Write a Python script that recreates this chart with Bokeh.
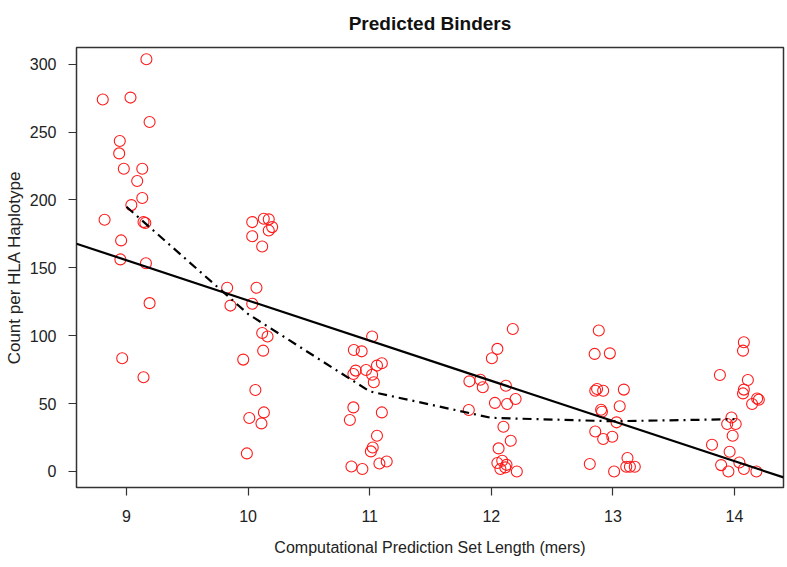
import numpy as np
from bokeh.plotting import figure
from bokeh.models import Range1d, FixedTicker
from bokeh.embed import file_html
from bokeh.resources import INLINE

# ---- data ----
set_lengths = [9, 10, 11, 12, 13, 14]
x_ticks = [9, 10, 11, 12, 13, 14]
y_ticks = [0, 50, 100, 150, 200, 250, 300]

# jittered x positions and counts per HLA haplotype, one pair of lists per length
x_9mer = [9.164, 8.805, 9.033, 9.19, 8.945, 8.94, 8.978, 9.13, 9.088, 9.13,
          9.04, 8.82, 9.14, 9.155, 8.956, 8.95, 9.16, 9.19, 8.965, 9.14]
y_9mer = [303.7, 274, 275.4, 257.4, 243.4, 234.3, 223, 223, 214, 201.4,
          196.2, 185.4, 183.7, 183, 170.2, 156.2, 153.4, 124, 83.4, 69.4]

x_10mer = [10.034, 10.129, 10.17, 10.198, 10.17, 10.034, 10.116, 9.828, 10.069, 9.855,
           10.034, 10.116, 10.16, 10.124, 9.96, 10.06, 10.13, 10.01, 10.11, 9.99]
y_10mer = [183.7, 186.2, 185.7, 180, 177.5, 173.3, 165.7, 135.3, 135.3, 122.2,
           123.5, 102, 99.4, 89, 82.4, 60, 43.5, 39.4, 35.4, 13.3]

x_11mer = [11.02, 10.87, 10.934, 10.885, 10.97, 11.06, 11.1, 10.866, 11.02, 11.034,
           10.866, 11.1, 10.837, 11.06, 11.025, 11.01, 11.08, 11.14, 10.85, 10.94]
y_11mer = [99.4, 89.5, 88.5, 74.3, 74.8, 78, 79.7, 71.8, 71.3, 65.7,
           47.2, 43.5, 37.9, 26.3, 17.7, 14.8, 5.9, 7.4, 3.7, 1.8]

x_12mer = [12.177, 12.05, 12.005, 11.82, 11.91, 11.93, 12.12, 12.2, 12.03, 12.13,
           11.815, 12.1, 12.16, 12.06, 12.05, 12.09, 12.125, 12.075, 12.115, 12.21]
y_12mer = [105, 90.3, 83.4, 66.4, 67.6, 62, 63.2, 53.4, 50.5, 49.7,
           45.3, 33, 22.6, 17, 6.2, 7.9, 4.9, 1.8, 3, 0]

x_13mer = [12.884, 12.85, 12.975, 12.87, 12.855, 12.92, 13.09, 12.903, 12.91, 13.056,
           13.03, 12.855, 12.92, 12.995, 12.81, 13.01, 13.12, 13.11, 13.14, 13.18]
y_13mer = [103.8, 86.6, 87, 60.8, 59.5, 59.5, 60.3, 45.5, 44, 48,
           36.2, 29.5, 23.9, 25.6, 5.5, 0, 9.9, 3.5, 3.5, 3.5]

x_14mer = [14.077, 14.07, 13.88, 14.11, 14.077, 14.07, 14.186, 14.2, 14.145, 13.975,
           13.94, 14.01, 13.985, 13.815, 13.96, 14.04, 13.89, 13.95, 14.077, 14.18]
y_14mer = [95.2, 89, 71.1, 67.4, 60.3, 57.5, 53.8, 52.9, 49.7, 39.8,
           35, 35, 26.3, 19.7, 14.5, 6.6, 4.7, 0, 1.8, 0]

# dash-dot trend through the per-length centre values
trend_means = [195, 116, 59, 39.5, 37, 38.5]

# ---- figure ----
XMIN, XMAX = 8.589, 14.403
YMIN, YMAX = -11.8, 312.3

W, H = 787, 567
FL, FR, FT, FB = 76, 783, 47, 487   # frame edges in page pixels

FONT = "Liberation Sans"

p = figure(width=W, height=H, output_backend="svg", toolbar_location=None,
           x_range=Range1d(XMIN, XMAX), y_range=Range1d(YMIN, YMAX),
           min_border_left=FL, min_border_right=W - FR,
           min_border_top=FT, min_border_bottom=H - FB,
           title="Predicted Binders")
p.background_fill_color = "white"
p.border_fill_color = "white"
p.grid.visible = False
p.outline_line_color = "#333333"
p.outline_line_width = 1.5

p.title.align = "center"
p.title.vertical_align = "top"
p.title.text_font = FONT
p.title.text_font_size = "19px"
p.title.text_font_style = "bold"
p.title.text_color = "#111111"
p.title.standoff = 23

all_x = np.array(x_9mer + x_10mer + x_11mer + x_12mer + x_13mer + x_14mer)
all_y = np.array(y_9mer + y_10mer + y_11mer + y_12mer + y_13mer + y_14mer)

p.scatter(all_x, all_y, marker="circle", size=11, fill_color=None,
          line_color="#ff1a1a", line_width=1.1)

# linear regression line across the full plot width
slope, intercept = np.polyfit(all_x, all_y, 1)
fx = np.array([XMIN, XMAX])
p.line(fx, slope * fx + intercept, line_color="black", line_width=2.2)

# dash-dot trend line
p.line(set_lengths, trend_means, line_color="black", line_width=2.2, line_dash="9 5 2 5")

for ax in (p.xaxis, p.yaxis):
    ax.axis_line_color = None
    ax.major_tick_line_color = "#333333"
    ax.major_tick_line_width = 1.2
    ax.major_tick_out = 8
    ax.major_tick_in = 0
    ax.minor_tick_line_color = None
    ax.major_label_text_font = FONT
    ax.major_label_text_font_size = "16px"
    ax.major_label_text_color = "#222222"
    ax.axis_label_text_font = FONT
    ax.axis_label_text_font_style = "normal"
    ax.axis_label_text_color = "#222222"

p.xaxis.ticker = FixedTicker(ticks=x_ticks)
p.yaxis.ticker = FixedTicker(ticks=y_ticks)
p.yaxis.major_label_orientation = "horizontal"
p.xaxis.major_label_standoff = 14
p.yaxis.major_label_standoff = 12
p.xaxis.axis_label = "Computational Prediction Set Length (mers)"
p.xaxis.axis_label_text_font_size = "16px"
p.xaxis.axis_label_standoff = 14
p.yaxis.axis_label = "Count per HLA Haplotype"
p.yaxis.axis_label_text_font_size = "17px"
p.yaxis.axis_label_standoff = 3

open("out.html", "w").write(file_html(p, INLINE))
